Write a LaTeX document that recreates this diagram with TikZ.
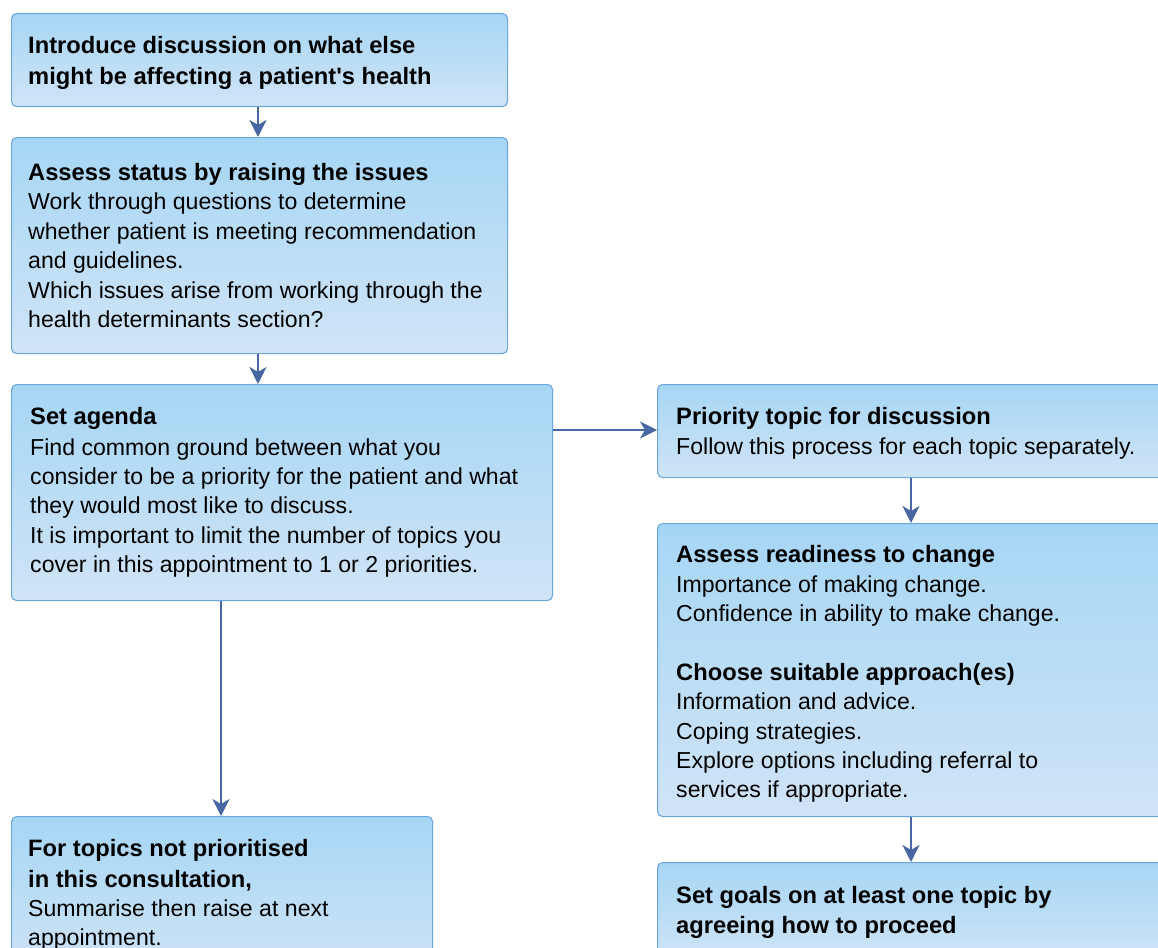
\documentclass[tikz,border=0pt]{standalone}
\usepackage{fontspec}
\setmainfont{Liberation Sans}
\usetikzlibrary{arrows.meta}
\definecolor{boxline}{RGB}{108,166,222}
\definecolor{boxtop}{RGB}{166,214,245}
\definecolor{boxbottom}{RGB}{208,228,247}
\definecolor{flow}{RGB}{72,102,162}
\newcommand{\hd}[1]{{\fontsize{23.7}{29.4}\selectfont\bfseries #1}}
\tikzset{
  stepbox/.style={draw=boxline, line width=1.1pt, rounded corners=5pt,
    top color=boxtop, bottom color=boxbottom, anchor=north west,
    inner sep=0pt},
  steptext/.style={anchor=west, inner sep=0pt, align=left,
    font=\fontsize{23.1}{29.4}\selectfont},
  flowarrow/.style={draw=flow, line width=2.6pt,
    -{Stealth[length=17pt,width=17pt,inset=5pt]}},
}
\begin{document}
\begin{tikzpicture}[x=1pt,y=-1pt]
\useasboundingbox (0,0) rectangle (1158,947);
\clip (0,0) rectangle (1158,947);

% boxes
\node[stepbox, minimum width=496pt, minimum height=93pt]  (intro)     at (11,13)  {};
\node[stepbox, minimum width=496pt, minimum height=216pt] (assess)    at (11,137) {};
\node[stepbox, minimum width=541pt, minimum height=216pt] (agenda)    at (11,384) {};
\node[stepbox, minimum width=520pt, minimum height=93pt]  (priority)  at (657,384) {};
\node[stepbox, minimum width=520pt, minimum height=293pt] (readiness) at (657,523) {};
\node[stepbox, minimum width=421pt, minimum height=160pt] (later)     at (11,816) {};
\node[stepbox, minimum width=520pt, minimum height=100pt] (goals)     at (657,862) {};

% texts
\node[steptext, yshift=-3pt] (intro-text) at ([xshift=17pt]intro.west)
  {\hd{Introduce discussion on what else}\\[1.4pt]
   \hd{might be affecting a patient\textquotesingle s health}};

\node[steptext, yshift=0pt] (assess-text) at ([xshift=17pt]assess.west)
  {\hd{Assess status by raising the issues}\\
   Work through questions to determine\\
   whether patient is meeting recommendation\\
   and guidelines.\\
   Which issues arise from working through the\\
   health determinants section?};

\node[steptext, yshift=0pt] (agenda-text) at ([xshift=19pt]agenda.west)
  {\hd{Set agenda}\\[1pt]
   Find common ground between what you\\
   consider to be a priority for the patient and what\\
   they would most like to discuss.\\
   It is important to limit the number of topics you\\
   cover in this appointment to 1 or 2 priorities.};

\node[steptext, yshift=-2pt] (priority-text) at ([xshift=19pt]priority.west)
  {\hd{Priority topic for discussion}\\[1pt]
   Follow this process for each topic separately.};

\node[steptext, yshift=-4pt] (readiness-text) at ([xshift=19pt]readiness.west)
  {\hd{Assess readiness to change}\\
   Importance of making change.\\
   Confidence in ability to make change.\\[29.4pt]
   \hd{Choose suitable approach(es)}\\
   Information and advice.\\
   Coping strategies.\\
   Explore options including referral to\\
   services if appropriate.};

\node[steptext, anchor=north west] (later-text) at (28,839)
  {\hd{For topics not prioritised}\\[1.4pt]
   \hd{in this consultation,}\\
   Summarise then raise at next\\
   appointment.};

\node[steptext, anchor=north west] (goals-text) at (676,886)
  {\hd{Set goals on at least one topic by}\\[0.6pt]
   \hd{agreeing how to proceed}};

% connectors
\draw[flowarrow] (intro.south -| 258,0) -- (assess.north -| 258,0);
\draw[flowarrow] (assess.south -| 258,0) -- (agenda.north -| 258,0);
\draw[flowarrow] (agenda.east |- 0,430) -- (priority.west |- 0,430);
\draw[flowarrow] (agenda.south -| 221,0) -- (later.north -| 221,0);
\draw[flowarrow] (priority.south -| 911,0) -- (readiness.north -| 911,0);
\draw[flowarrow] (readiness.south -| 911,0) -- (goals.north -| 911,0);
\end{tikzpicture}
\end{document}
